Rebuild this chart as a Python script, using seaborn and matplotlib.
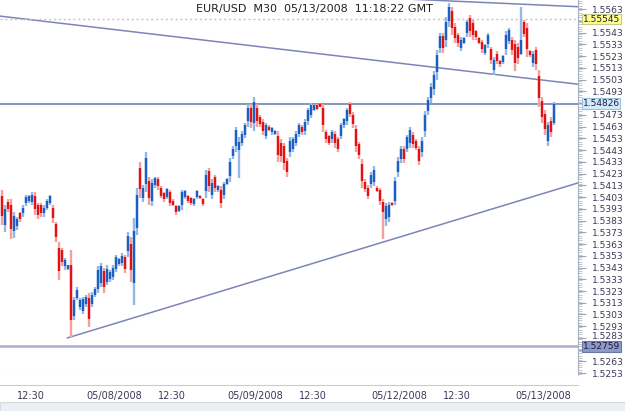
import numpy as np
import pandas as pd
import matplotlib
matplotlib.use('Agg')
import matplotlib.pyplot as plt
import matplotlib.transforms as mtrans
from matplotlib.patches import Rectangle
from matplotlib.ticker import MultipleLocator, FixedLocator
import seaborn as sns

# EUR/USD M30 candles (open / high / low / close)
opens = [1.5404, 1.5379, 1.5399, 1.5396, 1.5374, 1.5378, 1.5389, 1.5389, 1.5398, 1.5400,
         1.5399, 1.5404, 1.5396, 1.5396, 1.5389, 1.5394, 1.5398, 1.5394, 1.5380, 1.5360,
         1.5358, 1.5344, 1.5342, 1.5345, 1.5302, 1.5317, 1.5309, 1.5306, 1.5312, 1.5317,
         1.5312, 1.5320, 1.5325, 1.5330, 1.5340, 1.5331, 1.5333, 1.5335, 1.5342, 1.5346,
         1.5347, 1.5352, 1.5357, 1.5363, 1.5330, 1.5377, 1.5428, 1.5402, 1.5414, 1.5417,
         1.5400, 1.5413, 1.5418, 1.5411, 1.5406, 1.5403, 1.5407, 1.5400, 1.5395, 1.5391,
         1.5396, 1.5403, 1.5404, 1.5402, 1.5397, 1.5403, 1.5404, 1.5401, 1.5408, 1.5425,
         1.5405, 1.5420, 1.5409, 1.5409, 1.5405, 1.5414, 1.5421, 1.5438, 1.5446, 1.5443,
         1.5449, 1.5456, 1.5468, 1.5479, 1.5466, 1.5479, 1.5471, 1.5467, 1.5455, 1.5463,
         1.5458, 1.5457, 1.5455, 1.5449, 1.5446, 1.5434, 1.5441, 1.5444, 1.5449, 1.5457,
         1.5463, 1.5459, 1.5468, 1.5473, 1.5477, 1.5481, 1.5482, 1.5479, 1.5458, 1.5455,
         1.5452, 1.5457, 1.5452, 1.5455, 1.5464, 1.5468, 1.5482, 1.5473, 1.5461, 1.5448,
         1.5431, 1.5416, 1.5411, 1.5414, 1.5416, 1.5411, 1.5409, 1.5399, 1.5384, 1.5386,
         1.5398, 1.5400, 1.5424, 1.5435, 1.5444, 1.5444, 1.5449, 1.5456, 1.5451, 1.5444,
         1.5441, 1.5459, 1.5476, 1.5487, 1.5495, 1.5509, 1.5530, 1.5540, 1.5537, 1.5553,
         1.5561, 1.5548, 1.5541, 1.5530, 1.5534, 1.5543, 1.5555, 1.5551, 1.5544, 1.5538,
         1.5535, 1.5526, 1.5533, 1.5529, 1.5511, 1.5525, 1.5519, 1.5518, 1.5529, 1.5536,
         1.5537, 1.5533, 1.5531, 1.5525, 1.5552, 1.5547, 1.5527, 1.5517, 1.5528, 1.5506,
         1.5485, 1.5474, 1.5451, 1.5468, 1.5466]
highs = [1.5409, 1.5396, 1.5401, 1.5401, 1.5390, 1.5386, 1.5390, 1.5396, 1.5405, 1.5405,
         1.5407, 1.5407, 1.5398, 1.5398, 1.5396, 1.5401, 1.5405, 1.5396, 1.5382, 1.5365,
         1.5360, 1.5351, 1.5345, 1.5358, 1.5318, 1.5326, 1.5317, 1.5318, 1.5320, 1.5321,
         1.5322, 1.5326, 1.5344, 1.5347, 1.5343, 1.5345, 1.5341, 1.5345, 1.5354, 1.5351,
         1.5355, 1.5354, 1.5373, 1.5369, 1.5385, 1.5411, 1.5433, 1.5413, 1.5441, 1.5420,
         1.5418, 1.5420, 1.5420, 1.5412, 1.5407, 1.5411, 1.5409, 1.5401, 1.5396, 1.5396,
         1.5409, 1.5409, 1.5405, 1.5403, 1.5402, 1.5409, 1.5405, 1.5402, 1.5426, 1.5428,
         1.5418, 1.5422, 1.5413, 1.5412, 1.5416, 1.5419, 1.5436, 1.5446, 1.5463, 1.5454,
         1.5459, 1.5466, 1.5482, 1.5482, 1.5488, 1.5482, 1.5473, 1.5469, 1.5466, 1.5464,
         1.5463, 1.5460, 1.5459, 1.5452, 1.5449, 1.5436, 1.5454, 1.5454, 1.5459, 1.5466,
         1.5464, 1.5469, 1.5479, 1.5483, 1.5482, 1.5482, 1.5482, 1.5482, 1.5460, 1.5456,
         1.5460, 1.5459, 1.5454, 1.5466, 1.5470, 1.5479, 1.5484, 1.5475, 1.5464, 1.5450,
         1.5435, 1.5418, 1.5413, 1.5424, 1.5429, 1.5412, 1.5411, 1.5401, 1.5398, 1.5399,
         1.5399, 1.5420, 1.5437, 1.5446, 1.5446, 1.5456, 1.5463, 1.5458, 1.5452, 1.5446,
         1.5454, 1.5476, 1.5488, 1.5500, 1.5510, 1.5528, 1.5543, 1.5543, 1.5556, 1.5568,
         1.5565, 1.5551, 1.5543, 1.5539, 1.5539, 1.5554, 1.5558, 1.5554, 1.5545, 1.5539,
         1.5537, 1.5533, 1.5543, 1.5531, 1.5522, 1.5527, 1.5520, 1.5524, 1.5544, 1.5547,
         1.5539, 1.5537, 1.5534, 1.5565, 1.5554, 1.5551, 1.5528, 1.5527, 1.5531, 1.5511,
         1.5488, 1.5477, 1.5467, 1.5471, 1.5484]
lows = [1.5379, 1.5373, 1.5390, 1.5367, 1.5368, 1.5375, 1.5382, 1.5386, 1.5395, 1.5398,
        1.5396, 1.5388, 1.5384, 1.5386, 1.5386, 1.5392, 1.5396, 1.5381, 1.5365, 1.5332,
        1.5344, 1.5341, 1.5341, 1.5284, 1.5298, 1.5315, 1.5307, 1.5303, 1.5309, 1.5292,
        1.5309, 1.5318, 1.5321, 1.5326, 1.5321, 1.5328, 1.5331, 1.5332, 1.5339, 1.5344,
        1.5344, 1.5338, 1.5352, 1.5331, 1.5311, 1.5371, 1.5402, 1.5399, 1.5407, 1.5396,
        1.5395, 1.5411, 1.5409, 1.5402, 1.5399, 1.5401, 1.5395, 1.5395, 1.5388, 1.5390,
        1.5392, 1.5401, 1.5398, 1.5396, 1.5395, 1.5401, 1.5401, 1.5395, 1.5402, 1.5407,
        1.5401, 1.5407, 1.5407, 1.5394, 1.5401, 1.5413, 1.5416, 1.5435, 1.5441, 1.5419,
        1.5446, 1.5453, 1.5463, 1.5462, 1.5459, 1.5463, 1.5463, 1.5456, 1.5452, 1.5459,
        1.5456, 1.5456, 1.5433, 1.5433, 1.5426, 1.5420, 1.5437, 1.5441, 1.5446, 1.5454,
        1.5456, 1.5456, 1.5464, 1.5470, 1.5476, 1.5477, 1.5480, 1.5458, 1.5449, 1.5447,
        1.5449, 1.5445, 1.5441, 1.5452, 1.5462, 1.5464, 1.5471, 1.5462, 1.5441, 1.5435,
        1.5411, 1.5407, 1.5401, 1.5411, 1.5412, 1.5407, 1.5396, 1.5367, 1.5378, 1.5382,
        1.5395, 1.5396, 1.5420, 1.5432, 1.5432, 1.5441, 1.5445, 1.5445, 1.5443, 1.5430,
        1.5437, 1.5454, 1.5473, 1.5483, 1.5490, 1.5503, 1.5526, 1.5526, 1.5531, 1.5548,
        1.5541, 1.5534, 1.5531, 1.5527, 1.5533, 1.5539, 1.5539, 1.5537, 1.5537, 1.5533,
        1.5526, 1.5524, 1.5530, 1.5516, 1.5507, 1.5516, 1.5514, 1.5516, 1.5524, 1.5533,
        1.5524, 1.5510, 1.5516, 1.5524, 1.5539, 1.5522, 1.5522, 1.5514, 1.5511, 1.5480,
        1.5466, 1.5456, 1.5446, 1.5454, 1.5464]
closes = [1.5387, 1.5393, 1.5393, 1.5376, 1.5387, 1.5384, 1.5384, 1.5394, 1.5403, 1.5404,
          1.5405, 1.5393, 1.5388, 1.5389, 1.5394, 1.5400, 1.5404, 1.5385, 1.5369, 1.5340,
          1.5348, 1.5349, 1.5345, 1.5298, 1.5315, 1.5324, 1.5315, 1.5316, 1.5318, 1.5299,
          1.5320, 1.5325, 1.5341, 1.5344, 1.5326, 1.5342, 1.5339, 1.5343, 1.5352, 1.5350,
          1.5353, 1.5342, 1.5370, 1.5341, 1.5374, 1.5405, 1.5410, 1.5411, 1.5436, 1.5402,
          1.5415, 1.5419, 1.5412, 1.5404, 1.5401, 1.5410, 1.5398, 1.5396, 1.5390, 1.5395,
          1.5407, 1.5408, 1.5400, 1.5398, 1.5401, 1.5408, 1.5402, 1.5397, 1.5422, 1.5412,
          1.5415, 1.5411, 1.5412, 1.5398, 1.5414, 1.5418, 1.5433, 1.5444, 1.5460, 1.5450,
          1.5457, 1.5464, 1.5479, 1.5467, 1.5484, 1.5468, 1.5465, 1.5459, 1.5464, 1.5460,
          1.5462, 1.5459, 1.5439, 1.5438, 1.5432, 1.5424, 1.5451, 1.5452, 1.5457, 1.5464,
          1.5458, 1.5467, 1.5477, 1.5481, 1.5481, 1.5478, 1.5480, 1.5464, 1.5452, 1.5449,
          1.5458, 1.5449, 1.5444, 1.5464, 1.5469, 1.5477, 1.5474, 1.5465, 1.5446, 1.5439,
          1.5417, 1.5410, 1.5404, 1.5422, 1.5426, 1.5408, 1.5400, 1.5390, 1.5395, 1.5396,
          1.5396, 1.5417, 1.5434, 1.5444, 1.5435, 1.5454, 1.5460, 1.5448, 1.5445, 1.5434,
          1.5451, 1.5473, 1.5486, 1.5497, 1.5507, 1.5524, 1.5540, 1.5530, 1.5552, 1.5565,
          1.5547, 1.5538, 1.5534, 1.5537, 1.5538, 1.5552, 1.5544, 1.5541, 1.5539, 1.5534,
          1.5529, 1.5532, 1.5541, 1.5520, 1.5520, 1.5519, 1.5516, 1.5523, 1.5541, 1.5545,
          1.5528, 1.5517, 1.5521, 1.5537, 1.5542, 1.5529, 1.5524, 1.5525, 1.5516, 1.5487,
          1.5471, 1.5461, 1.5464, 1.5458, 1.5482]

# levels and trend lines (bar index, price)
bid_price = 1.54826
high_level = 1.55545
low_level = 1.52759
resist_bars = [-0.67, 192.0]
resist_prices = [1.5557, 1.5499]
upper_bars = [-0.67, 192.0]
upper_prices = [1.5587, 1.5565]
support_bars = [21.7, 192.0]
support_prices = [1.5283, 1.5415]

price_ticks = [1.5253, 1.5263, 1.5273, 1.5283, 1.5293, 1.5303, 1.5313, 1.5323, 1.5333,
               1.5343, 1.5353, 1.5363, 1.5373, 1.5383, 1.5393, 1.5403, 1.5413, 1.5423,
               1.5433, 1.5443, 1.5453, 1.5463, 1.5473, 1.5483, 1.5493, 1.5503, 1.5513,
               1.5523, 1.5533, 1.5543, 1.5553, 1.5563]
tick_bars = [5, 28, 52, 75, 99, 123, 147, 171]
tick_labels = ['12:30', '05/08/2008', '12:30', '05/09/2008',
               '12:30', '05/12/2008', '12:30', '05/13/2008']

sns.set_style('white')
plt.rcParams['font.family'] = ['DejaVu Sans']

W, H = 625, 411
fig = plt.figure(figsize=(W / 100, H / 100), dpi=100)
ax = fig.add_axes([0, 36 / H, 578 / W, 375 / H])
strip = fig.add_axes([0, 26 / H, 578 / W, 10 / H], sharex=ax)

df = pd.DataFrame({'open': opens, 'high': highs, 'low': lows, 'close': closes})
df['bar'] = np.arange(len(df))
up = df['close'] >= df['open']
up_dark, up_light = '#1b5fc2', '#93b8e6'
dn_dark, dn_light = '#e31212', '#f2a0a0'

# wicks then bodies
ax.vlines(df['bar'], df['low'], df['high'],
          colors=np.where(up, up_light, dn_light), lw=1.7, zorder=3)
ax.vlines(df['bar'], df[['open', 'close']].min(axis=1), df[['open', 'close']].max(axis=1),
          colors=np.where(up, up_dark, dn_dark), lw=1.7, zorder=4)

lines = pd.DataFrame({
    'bar': resist_bars + upper_bars + support_bars,
    'price': resist_prices + upper_prices + support_prices,
    'name': ['resist'] * 2 + ['upper'] * 2 + ['support'] * 2})
sns.lineplot(data=lines, x='bar', y='price', units='name', estimator=None,
             color='#7d85b8', lw=1.1, ax=ax, zorder=2)

ax.axhline(bid_price, color='#7282b4', lw=1.2, zorder=2)
ax.axhline(low_level, color='#a9b1cc', lw=1.8, zorder=2)
ax.axhline(high_level, color='#c4c4c4', lw=1.0, ls=(0, (1.5, 2)), zorder=2)

ax.set_xlim(-0.67, 192)
ax.set_ylim(1.52515, 1.55707)
ax.set_xlabel('')
ax.set_ylabel('')
ax.yaxis.tick_right()
ax.yaxis.set_major_locator(FixedLocator(price_ticks))
ax.yaxis.set_minor_locator(MultipleLocator(0.0002))
# tick labels hidden behind the price boxes are left blank
boxed = [high_level, bid_price, low_level]
ax.set_yticklabels(['' if min(abs(t - b) for b in boxed) < 0.0003 else f'{t:.4f}'
                    for t in price_ticks])
ax.tick_params(axis='y', which='major', length=6, width=0.8, color='#a0a8b8',
               labelsize=6.6, labelcolor='#3a3a58', pad=4, right=True, left=False)
ax.tick_params(axis='y', which='minor', length=3, width=0.6, color='#b8bec8', right=True, left=False)
ax.tick_params(axis='x', which='both', bottom=False, labelbottom=False)
for s in ['top', 'left']:
    ax.spines[s].set_visible(False)
ax.spines['right'].set_color('#a8b0c0')
ax.spines['bottom'].set_color('#c8ccd6')
# the label just above the low box sits a touch higher, as in the terminal
for lab, t in zip(ax.get_yticklabels(), price_ticks):
    if abs(t - 1.5283) < 1e-6:
        lab.set_transform(lab.get_transform() + mtrans.ScaledTranslation(0, 1.5 / 72, fig.dpi_scale_trans))

# time axis strip
strip.set_ylim(0, 1)
strip.set_yticks([])
for s in ['top', 'left', 'right']:
    strip.spines[s].set_visible(False)
strip.spines['bottom'].set_color('#c8ccd6')
strip.xaxis.set_major_locator(FixedLocator(tick_bars))
minor = [t + k * 6 for t in [tick_bars[0] - 24] + tick_bars for k in (1, 2, 3)]
strip.xaxis.set_minor_locator(FixedLocator(minor))
strip.set_xticklabels(tick_labels)
strip.tick_params(axis='x', which='major', direction='in', length=7, width=0.8,
                  color='#b8bcc6', labelsize=7, labelcolor='#3a3a58', pad=4)
strip.tick_params(axis='x', which='minor', direction='in', length=3.5, width=0.6, color='#c4c8d0')
for lab in strip.get_xticklabels():
    lab.set_ha('left')
strip.set_facecolor('white')

# price boxes on the right axis
trans = mtrans.blended_transform_factory(ax.transAxes, ax.transData)
boxes = [(high_level, '#ffff8c', '#c8c890'),
         (bid_price, '#d4eafa', '#9cc2e2'),
         (low_level, '#8c9aca', '#6a78a8')]
for val, fc, ec in boxes:
    ax.text(1.008, val, f'{val:.5f}', transform=trans, ha='left', va='center',
            fontsize=6.5, color='#1c1c3c', clip_on=False, zorder=6,
            bbox=dict(boxstyle='square,pad=0.08', fc=fc, ec=ec, lw=0.8))

fig.text(314 / W, 1 - 9 / H, 'EUR/USD  M30  05/13/2008  11:18:22 GMT',
         ha='center', va='center', fontsize=8, color='#202020')

# scroll bar at the bottom
fig.patches.append(Rectangle((0, 0), 1, 9 / H, transform=fig.transFigure,
                             fc='#eceff4', ec='#d6dae2', lw=0.8))

fig.savefig('out.png', dpi=100, facecolor='white')
